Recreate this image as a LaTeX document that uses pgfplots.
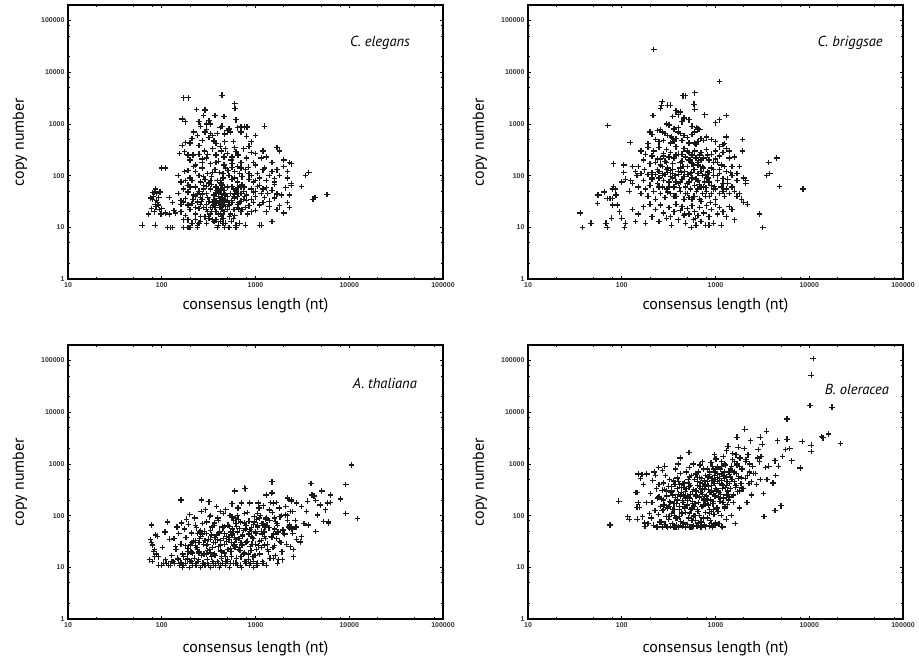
\documentclass[border=0pt]{standalone}
\usepackage{pgfplots}
\pgfplotsset{compat=1.18}
\usepackage{fontspec}
\setmainfont{PT Sans}
\newfontfamily\arialf{Liberation Sans}
\newcommand{\tickfont}{\arialf\fontsize{7}{8}\selectfont\bfseries}
\newcommand{\labfont}{\fontsize{16}{18}\selectfont}
\newcommand{\spfont}{\fontsize{14.5}{16}\selectfont\itshape}
\pgfplotsset{
 mypanel/.style={
  width=375pt,height=274pt,scale only axis,
  xmin=10,xmax=100000,ymin=1,ymax=200000,
  xtick={10,100,1000,10000,100000}, xticklabels={10,100,1000,10000,100000},
  ytick={1,10,100,1000,10000,100000}, yticklabels={1,10,100,1000,10000,100000},
  minor xtick={20,50,80,200,500,800,2000,5000,8000,20000,50000,80000},
  minor ytick={2,5,8,20,50,80,200,500,800,2000,5000,8000,20000,50000,80000},
  tick align=inside, major tick length=3.5pt, minor tick length=2.2pt,
  every tick/.style={black, line width=0.8pt},
  axis line style={line width=1.1pt},
  ticklabel style={font=\tickfont, text=black!80},
  xlabel={consensus length (nt)}, ylabel={copy number},
  label style={font=\labfont},
  ylabel style={at={(axis description cs:-0.128,0.5)}, anchor=center},
  xlabel style={at={(axis description cs:0.5,-0.113)}, anchor=base},
  clip=false,
 },
 mypts/.style={only marks, mark=+, mark size=2.8pt, black!90, mark options={line width=1.25pt}},
}
\begin{document}
\begin{tikzpicture}
\path[use as bounding box] (0,0) rectangle (919pt,662pt);
% ---------------- C. elegans
\begin{loglogaxis}[mypanel, at={(68pt,383pt)}, anchor=south west]
\addplot[mypts] coordinates {
(170,3200) (192,3200) (440,3600) (600,2500) (605,2000) (235,1900) (290,1850) (280,1450) (370,1450) (165,1250)
(178,1100) (250,1100) (320,1150) (460,1400) (620,1200) (1250,900) (700,870) (760,870) (810,870) (300,1000)
(330,1000) (440,900) (420,850) (520,800) (540,700) (300,780) (290,700) (640,840) (220,700) (260,900)
(350,600) (330,650) (240,600) (270,480) (210,520) (200,430) (180,440) (360,470) (380,420) (470,640)
(470,450) (580,460) (800,580) (900,450) (1000,600) (700,700) (390,650) (500,740) (320,550)
(155,270) (165,380) (175,290) (190,250) (200,200) (215,250) (230,160) (250,260) (270,180) (285,300)
(300,220) (330,170) (350,330) (380,250) (400,190) (430,300) (460,160) (500,270) (550,200) (600,350)
(650,250) (700,180) (750,330) (800,220) (900,280) (950,180) (1000,270) (1150,220) (1300,230) (1500,180)
(1700,350) (1800,300) (2000,200) (2300,180) (2400,170) (1000,160) (250,380) (420,370) (560,170) (850,370)
(310,260) (460,230) (620,290) (1200,300)
(100,140) (110,140) (150,100) (160,75) (175,120) (190,125) (200,90) (210,80) (230,120) (250,100)
(270,140) (290,85) (310,110) (340,95) (370,130) (390,80) (410,115) (450,90) (480,140) (520,100)
(560,85) (600,120) (640,75) (680,110) (720,95) (780,130) (850,85) (900,100) (950,75) (1050,110)
(1100,90) (1200,130) (1300,80) (1400,100) (1500,120) (1600,75) (1800,100) (2000,150) (2200,90) (2400,70)
(3400,100) (3700,115) (180,80) (320,72) (430,72) (560,145) (840,145) (1250,140) (1700,130) (260,75)
(700,140) (1600,88) (2200,120)
(150,45) (170,55) (190,48) (200,60) (220,42) (250,50) (280,65) (300,45) (330,55) (360,42)
(380,60) (400,48) (430,44) (460,52) (500,60) (540,45) (580,55) (620,50) (650,58) (700,45)
(760,60) (800,42) (900,55) (950,48) (1050,62) (1150,45) (1300,58) (1500,52) (1700,44) (1900,42)
(2100,58) (2400,65) (3100,62) (2300,42) (1350,45) (270,44) (340,68) (440,66) (720,66) (1600,68)
(230,60) (420,55) (480,42) (600,44) (1000,50)
(120,38) (130,30) (160,33) (170,31) (190,27) (210,29) (240,31) (270,35) (300,28) (320,32)
(350,30) (380,33) (400,29) (420,31) (450,27) (470,35) (500,33) (560,30) (600,37) (650,28)
(700,32) (750,35) (800,33) (850,26) (950,30) (1100,27) (1250,38) (1400,32) (1600,37) (1800,26)
(2200,30) (4100,35) (4300,38) (5800,43) (180,36) (230,39) (440,37) (1000,39) (1200,30) (530,26)
(640,39) (360,35) (410,36) (460,31)
(120,18) (135,21) (160,20) (180,17) (200,22) (230,18) (260,16) (280,24) (300,22) (330,24)
(350,24) (370,24) (400,18) (430,16) (460,20) (500,22) (540,18) (600,17) (660,23) (720,22)
(780,24) (900,20) (1000,21) (1300,20) (1700,22) (2000,19) (2300,24) (110,19) (140,19) (380,20)
(310,20) (250,23) (440,22) (820,18) (420,24) (480,25)
(170,14) (190,14) (210,12) (260,13) (320,15) (350,14) (420,13) (450,15) (480,12) (550,13)
(620,11) (680,12) (1500,13) (780,11) (580,15) (240,11) (250,12) (300,12) (400,11) (360,13)
(115,10) (125,10) (130,10) (170,10) (190,10) (200,10) (240,10) (390,10) (470,10) (520,10)
(620,10) (1150,11) (1100,11)
(62,11) (85,11) (72,18) (78,23) (80,35) (82,40) (84,48) (86,55) (88,45) (90,30)
(92,27) (95,22) (98,18) (85,28) (88,33) (83,20) (93,38) (80,47) (76,37) (100,23)
(87,25) (96,48)
(215,35) (330,18) (470,45) (260,28) (590,22) (390,52) (310,38) (550,33) (420,18) (280,55)
(640,24) (360,27) (230,14) (500,40) (700,20) (265,32) (450,12) (380,45) (520,28) (610,52)
(340,20) (240,44) (410,26) (560,62) (290,16) (480,34) (670,30) (230,24) (400,40) (750,50)
(330,80) (450,110) (220,150) (600,90) (380,180) (510,125) (280,95) (700,60) (900,35) (1100,65)
(1400,25) (1200,55) (850,110) (1000,80) (270,210) (480,330) (640,150) (350,115) (190,65) (160,28)
(420,80) (560,230) (760,40) (300,62) (440,28) (590,40) (380,14) (260,38) (530,16) (650,45)
};
\node[font=\spfont] at (axis description cs:0.832,0.861) {C. elegans};
\end{loglogaxis}
% ---------------- C. briggsae
\begin{loglogaxis}[mypanel, at={(528pt,383pt)}, anchor=south west]
\addplot[mypts] coordinates {
(220,27500) (1100,6600) (600,4000) (450,3500) (480,3500) (270,2700) (265,2300) (260,2000) (310,2300) (330,2300)
(590,2400) (600,1900) (215,1450) (770,1500) (1000,1050) (1100,1200) (1300,1450) (71,930) (1950,500) (1950,300)
(4500,220) (3700,180) (3500,100) (3800,110) (4800,62) (8600,55) (2950,18) (3200,10)
(36,19) (38,10) (47,12) (68,12) (70,10) (55,42) (57,42) (65,48) (55,29) (70,36)
(75,36) (78,15) (80,55) (82,62) (85,55) (80,36) (87,42) (80,27) (90,27) (95,20)
(100,15) (107,10) (110,12) (100,75) (105,160) (82,170) (105,115) (110,85) (125,80) (123,440)
(380,1800) (400,1500) (420,1700) (350,1400) (460,1300) (300,1000) (320,950) (360,800) (400,850) (440,1100)
(520,1200) (560,900) (630,850) (650,800) (680,780) (200,700) (210,620) (240,750) (260,780) (270,700)
(290,650) (310,600) (340,560) (380,520) (400,700) (420,650) (460,600) (500,550) (560,620) (600,700)
(700,520) (750,480) (800,560) (900,500) (1000,450) (1200,400) (1300,560) (1250,420) (230,500) (250,450)
(280,480) (330,430) (360,460) (440,480) (520,430) (190,420) (600,430) (650,460)
(150,150) (160,300) (170,200) (180,260) (190,350) (200,170) (210,240) (220,300) (230,180) (240,130)
(250,350) (260,210) (270,150) (280,270) (290,190) (300,320) (310,140) (320,230) (330,280) (350,170)
(360,220) (380,360) (400,260) (420,140) (440,190) (460,330) (480,230) (500,150) (520,280) (540,200)
(560,250) (580,160) (600,300) (620,220) (650,180) (700,280) (720,150) (750,220) (800,320) (850,200)
(900,260) (950,130) (1000,300) (1050,180) (1100,240) (1200,280) (1250,150) (1300,330) (1400,220) (1500,150)
(1600,230) (1800,150) (140,120) (130,150) (145,100) (160,110) (175,130) (190,105) (210,115) (230,105)
(250,120) (270,110) (290,105) (310,115) (330,125) (350,110) (370,100) (400,105) (430,115) (470,120)
(510,105) (550,115) (600,130) (650,110) (700,120) (780,105) (850,115) (950,100) (1100,110) (1300,120)
(1450,115) (1700,110) (2100,70) (2100,80) (2000,90)
(120,50) (130,70) (150,60) (160,45) (170,80) (180,55) (190,40) (200,65) (210,85) (220,50)
(230,35) (240,70) (250,90) (260,45) (270,60) (280,80) (290,38) (300,55) (320,75) (330,45)
(350,90) (360,60) (380,40) (400,70) (420,50) (440,85) (460,35) (480,60) (500,45) (520,75)
(540,55) (560,90) (580,40) (600,65) (630,50) (650,80) (680,35) (700,60) (730,45) (760,75)
(800,50) (830,90) (860,40) (900,65) (950,55) (1000,35) (1050,80) (1100,45) (1150,60) (1200,70)
(1250,40) (1300,55) (1350,85) (1400,45) (1500,60) (1600,50) (1700,40) (1800,45) (1900,35) (2000,30)
(2200,28) (310,48) (410,58) (520,38) (670,68) (790,58) (980,62) (1200,88)
(130,22) (140,13) (150,18) (170,25) (180,12) (200,28) (210,16) (230,22) (250,13) (260,27)
(280,19) (300,15) (320,24) (340,11) (360,20) (380,28) (400,14) (420,21) (440,25) (460,17)
(480,12) (500,23) (520,18) (550,10) (560,26) (580,14) (600,20) (620,11) (650,17) (680,24)
(700,13) (750,19) (780,11) (800,26) (850,16) (900,22) (950,12) (1000,28) (1050,18) (1100,24)
(1150,11) (1200,20) (1300,16) (1400,25) (1500,22) (1600,14) (330,16) (470,18) (610,15) (850,11)
(250,60) (420,180) (600,40) (350,130) (800,90) (280,240) (500,70) (700,200) (1000,55) (330,95)
(450,150) (620,85) (900,140) (380,250) (540,110) (750,60) (1100,130) (270,100) (480,45) (650,160)
(850,75) (300,180) (560,35) (720,100) (1200,50) (400,120) (880,30) (320,60) (460,95) (680,250)
(1050,100) (240,210) (590,130) (780,40) (420,75) (960,180) (360,40) (520,200) (740,140) (300,130)
(1350,70) (1500,100) (1150,160) (640,55) (440,260) (820,120) (210,90) (560,170) (1000,210) (380,75)
(700,32) (900,45) (500,300) (260,160) (620,400) (820,250) (350,520) (1100,360) (1400,300) (1700,80)
};
\node[font=\spfont] at (axis description cs:0.859,0.861) {C. briggsae};
\end{loglogaxis}
% ---------------- A. thaliana
\begin{loglogaxis}[mypanel, at={(68pt,43pt)}, anchor=south west, xlabel style={at={(axis description cs:0.5,-0.124)}}]
\addplot[mypts] coordinates {
(10600,950) (12300,88) (9200,400) (9200,110) (8100,210) (6300,250) (6300,180) (6000,75) (5100,300) (3900,420)
(4200,240) (3600,190) (1500,450) (1500,280) (760,340) (600,300) (160,200) (265,200) (320,185) (1450,180)
(2200,220) (2400,200) (4000,250) (4400,195) (4900,160) (5900,175) (5600,130) (4600,103) (5300,77) (6000,72)
(4400,49) (3650,66) (3100,39) (3000,31) (3500,120) (3100,150) (2750,175) (2500,120) (2300,57) (2350,25)
(2550,16) (2100,103) (1950,14) (1720,12) (1550,15) (1550,175) (1300,250) (1070,175) (870,175) (780,330)
(1490,270)
(78,66) (76,34) (80,27) (84,22) (86,42) (90,40) (84,16) (92,16) (74,14) (80,13)
(92,11) (100,11) (78,30) (82,20) (88,18)
(118,11) (105,12) (126,13) (110,14) (128,17) (102,24) (122,35) (108,48) (115,75) (124,11) (112,12)
(156,11) (138,12) (165,10) (132,13) (148,15) (168,18) (142,22) (160,28) (135,36) (152,45)
(145,60) (162,72) (150,14) (168,11) (140,25)
(196,10) (214,11) (178,12) (205,13) (187,14) (172,16) (211,19) (190,23) (202,27) (217,32)
(181,38) (208,46) (175,55) (193,68) (184,85) (199,105) (172,11) (212,12) (188,15) (205,20)
(258,10) (231,11) (276,12) (243,13) (222,15) (267,17) (249,20) (237,24) (279,28) (228,33)
(261,40) (252,48) (234,58) (273,70) (225,90) (264,120) (270,11) (246,14) (240,22) (255,36)
(330,10) (290,11) (354,12) (306,14) (342,16) (282,18) (322,22) (298,26) (358,30) (314,35)
(338,42) (286,50) (346,60) (302,75) (326,95) (294,130) (318,11) (350,13) (334,19) (310,28) (300,45)
(412,10) (376,11) (446,12) (392,13) (432,15) (362,18) (426,21) (402,25) (372,30) (456,36)
(386,42) (416,50) (442,60) (366,72) (396,90) (452,110) (382,150) (406,12) (436,16) (422,27) (370,38)
(530,10) (478,11) (582,12) (504,14) (556,16) (465,19) (543,23) (595,27) (491,32) (517,38)
(470,45) (569,55) (509,65) (587,80) (535,100) (483,130) (561,170) (496,13) (548,20) (522,35) (574,50)
(705,10) (645,11) (765,13) (625,15) (745,18) (685,21) (605,25) (785,30) (665,36) (725,43)
(750,52) (630,62) (690,75) (610,90) (770,110) (650,140) (710,175) (790,12) (670,24) (730,40) (620,70)
(955,10) (865,11) (1045,12) (835,14) (985,17) (895,21) (1075,26) (805,31) (925,37) (1015,45)
(880,54) (1060,65) (850,78) (970,95) (820,115) (1090,140) (940,16) (1000,28) (910,50) (1030,85)
(1310,11) (1190,13) (1430,15) (1110,18) (1350,22) (1250,27) (1150,33) (1470,40) (1230,48) (1390,58)
(1170,70) (1290,85) (1130,100) (1410,125) (1210,155) (1370,20) (1270,36) (1330,65)
(1770,14) (1620,17) (1920,20) (1540,24) (1870,30) (1690,36) (1570,44) (1970,53) (1720,64) (1640,78)
(1820,95) (1520,115) (1790,140) (1670,180) (1590,26) (1740,48)
(2550,22) (2150,28) (2750,35) (2050,44) (2450,55) (2300,66) (2650,80) (2200,100) (2350,120) (2100,150)
(2400,190) (2250,60)
(210,30) (230,26) (250,19) (270,44) (290,33) (310,21) (330,52) (350,24) (370,17) (390,34)
(410,46) (430,20) (450,58) (470,28) (490,40) (510,22) (530,62) (550,30) (570,44) (590,26)
(620,34) (640,48) (660,22) (680,56) (700,30) (730,42) (760,19) (790,65) (820,32) (850,44)
(880,25) (910,58) (940,36) (970,75) (1000,48) (1050,60) (1100,32) (1150,50) (1200,70) (1300,90)
(250,30) (400,25) (600,28) (800,30)
(160,12) (235,11) (310,12) (420,11) (540,12) (690,11) (880,12) (1040,11) (200,13) (275,12)
(355,11) (480,13) (620,12) (780,13) (960,13) (1200,12)
(180,26) (240,45) (300,18) (360,64) (420,33) (480,16) (540,48) (600,38) (660,85) (720,27)
(780,55) (840,18) (900,40) (960,68) (1020,22) (1100,90) (1180,44) (1260,60) (1340,28) (1420,80)
(1500,38) (1600,55) (1700,70) (1800,32) (1900,100) (2000,45) (2200,80) (2500,45)
(190,20) (260,52) (330,35) (400,80) (470,62) (550,42) (640,100) (700,16) (760,72) (860,50)
(920,28) (1050,110) (1150,24) (1250,40) (1400,130) (1600,90) (2700,60) (3300,70) (420,120) (560,95)
(330,100) (230,65)
};
\node[font=\spfont] at (axis description cs:0.845,0.861) {A. thaliana};
\end{loglogaxis}
% ---------------- B. oleracea
\begin{loglogaxis}[mypanel, at={(528pt,43pt)}, anchor=south west, xlabel style={at={(axis description cs:0.5,-0.124)}}]
\addplot[mypts] coordinates {
(11000,110000) (10500,52000) (10200,13500) (17500,12500) (21500,2500) (16000,3800) (13500,3400) (14000,3200) (10500,2300) (10500,1750)
(8400,2700) (8000,830) (75,66) (93,190) (116,97) (120,85) (145,145) (145,280) (150,180) (165,630)
(185,640) (180,62) (175,72)
(174,62) (190,70) (146,85) (166,95) (198,110) (154,145) (182,180) (142,280) (170,400) (158,520) (150,640) (162,630)
(238,60) (218,65) (254,75) (206,90) (246,105) (226,125) (258,150) (210,180) (242,220) (202,270)
(234,330) (250,400) (214,480) (230,600) (222,700) (248,860)
(306,60) (274,60) (330,62) (290,68) (262,75) (318,85) (298,95) (338,110) (270,125) (310,140)
(282,160) (326,185) (266,210) (302,240) (334,280) (286,320) (314,370) (278,430) (322,500) (294,600) (272,750) (288,900)
(406,60) (361,60) (441,62) (381,65) (346,70) (426,78) (396,88) (366,100) (436,115) (351,130)
(416,150) (386,170) (446,195) (371,225) (401,260) (342,300) (431,350) (411,400) (356,470) (391,550)
(421,650) (376,800) (400,1000) (420,1300)
(536,60) (476,60) (584,63) (500,67) (458,72) (560,80) (518,90) (590,100) (482,115) (548,130)
(464,150) (572,170) (506,195) (530,220) (452,250) (566,290) (494,330) (542,380) (470,440) (512,500)
(554,600) (488,700) (524,850) (578,1000) (520,1650)
(701,60) (629,62) (765,66) (653,72) (613,80) (741,90) (677,100) (789,115) (637,130) (717,150)
(605,170) (757,200) (669,230) (733,260) (621,300) (693,340) (773,390) (645,450) (709,520) (781,600)
(661,700) (749,800) (685,950) (725,1100)
(925,60) (855,65) (1005,72) (885,80) (815,90) (965,105) (905,120) (1035,140) (845,160) (945,185)
(805,210) (995,240) (875,280) (1025,320) (835,370) (955,420) (915,480) (1045,550) (865,620) (985,700)
(825,800) (935,900) (895,1050) (1015,1250) (975,1500)
(1195,60) (1090,70) (1300,85) (1150,100) (1060,120) (1255,140) (1345,165) (1120,190) (1225,220) (1375,260)
(1075,300) (1285,350) (1180,400) (1330,460) (1105,530) (1240,600) (1390,700) (1135,800) (1270,950) (1165,1100)
(1210,1400) (1315,1800) (1360,2200)
(1620,70) (1470,100) (1795,140) (1545,180) (1420,230) (1720,290) (1645,350) (1870,420) (1495,500) (1770,580)
(1570,680) (1445,800) (1695,950) (1595,1100) (1820,1300) (1520,1600) (1745,2100) (1700,3300) (1670,650)
(2170,180) (2420,250) (1970,330) (2270,420) (2070,520) (2520,650) (1920,800) (2320,1000) (2120,1200) (2220,1500)
(2020,2000) (2370,2800) (2050,4700)
(3250,270) (2750,400) (3550,500) (2650,650) (3400,850) (2950,1100) (3050,1400) (2850,1900) (3150,2400) (3000,3300)
(3500,4300) (3300,97) (4300,125) (5000,155)
(4100,430) (4400,600) (4700,900) (4300,1150) (5200,1400) (5600,1900) (6200,2000) (4600,2800) (5800,3000) (5800,7400)
(8000,830) (6500,1150)
(280,200) (300,300) (320,150) (350,250) (370,400) (390,200) (410,130) (430,280) (460,350) (480,220)
(500,160) (520,420) (540,260) (560,140) (580,320) (600,500) (620,240) (640,380) (660,180) (680,550)
(700,280) (720,420) (740,160) (760,330) (780,600) (800,240) (820,450) (840,320) (860,700) (880,200)
(900,380) (920,520) (950,260) (980,600) (1000,340) (1050,460) (1100,280) (1150,640) (1200,380) (1250,520)
(1300,250) (1350,450) (1400,620) (1450,330) (1500,750) (1600,450) (1800,900) (1900,550) (380,90) (550,80)
(700,75) (900,70)
(320,95) (450,180) (610,260) (870,130) (1150,480) (390,330) (530,110) (750,210) (1020,300) (1300,380)
(280,130) (420,240) (570,190) (690,440) (940,170) (1250,700) (360,170) (480,290) (650,120) (830,560)
(1080,230) (1450,560) (300,240) (520,360) (720,150) (980,420) (1200,180) (1600,700) (440,110) (620,640)
(880,280) (1150,900) (400,460) (580,95) (780,360) (1050,650) (1350,300) (1700,1000) (340,360) (960,800)
(300,62) (420,64) (560,61) (710,63) (870,62) (1000,66) (380,61) (480,62) (640,63) (780,61)
(930,63) (1150,62)
(330,180) (450,420) (590,150) (720,320) (860,110) (1000,500) (1130,260) (1260,150) (1400,420) (1550,250)
(1750,520) (1900,350) (2200,600) (2500,900)
(360,130) (500,240) (640,540) (780,170) (900,300) (1050,870) (1180,340) (1320,560) (1480,900) (1650,380)
(2100,1100) (2400,450)
(270,310) (410,95) (530,560) (680,360) (820,200) (950,130) (1100,420) (1240,1000) (1380,200) (1520,1200)
(1800,300) (2300,700) (2800,1300)
(250,230) (390,520) (470,140) (610,100) (760,470) (990,240) (1210,580) (1650,1500) (3000,500) (3700,900)
};
\node[font=\spfont] at (axis description cs:0.877,0.836) {B. oleracea};
\end{loglogaxis}
\end{tikzpicture}
\end{document}
